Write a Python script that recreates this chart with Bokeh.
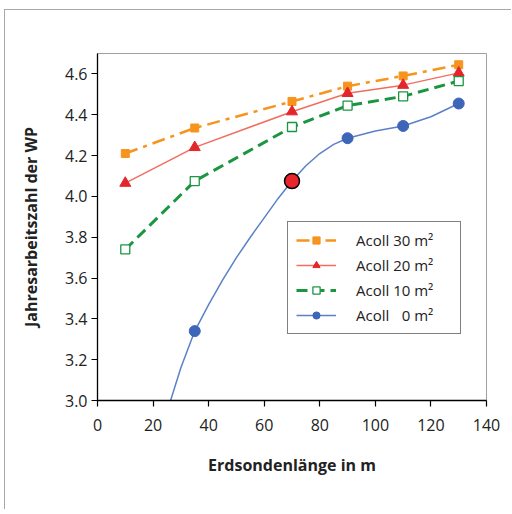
from bokeh.plotting import figure
from bokeh.models import (Range1d, FixedTicker, PrintfTickFormatter, Legend,
                          LegendItem, InlineStyleSheet)
from bokeh.embed import file_html
from bokeh.resources import INLINE

# ---- data ----
x_pts = [10, 35, 70, 90, 110, 130]
a30 = [4.21, 4.335, 4.465, 4.54, 4.59, 4.645]
a20 = [4.065, 4.24, 4.415, 4.505, 4.545, 4.605]
a10 = [3.74, 4.075, 4.34, 4.445, 4.49, 4.565]

a0_x = [35, 90, 110, 130]
a0_y = [3.34, 4.285, 4.345, 4.455]
# traced smooth curve of the 0 m2 series
a0_curve_x = [26.3, 30, 35, 40, 45, 50, 55, 60, 65, 70, 75, 80, 85, 90, 100, 110, 120, 130]
a0_curve_y = [3.0, 3.16, 3.34, 3.47, 3.59, 3.70, 3.80, 3.895, 3.99, 4.075, 4.15, 4.21, 4.255, 4.285, 4.32, 4.345, 4.39, 4.455]

hl_x = [70]
hl_y = [4.075]

x_ticks = [0, 20, 40, 60, 80, 100, 120, 140]
y_ticks = [3.0, 3.2, 3.4, 3.6, 3.8, 4.0, 4.2, 4.4, 4.6]

labels = ["Acoll 30 m\u00b2", "Acoll 20 m\u00b2", "Acoll 10 m\u00b2", "Acoll \u20070 m\u00b2"]

FONT = "Open Sans"

p = figure(width=507, height=500, output_backend="svg", toolbar_location=None,
           x_range=Range1d(0, 140), y_range=Range1d(3.0, 4.7),
           min_border_left=92, min_border_top=43, min_border_right=26,
           min_border_bottom=110)

p.stylesheets = [InlineStyleSheet(css=":host { position: relative; left: 4px; top: 9px; "
                                      "border-left: 1px solid #a8a8a8; border-top: 1px solid #a8a8a8; }")]

p.xgrid.visible = False
p.ygrid.visible = False
p.outline_line_color = "#a0a0a0"
p.outline_line_width = 1
p.background_fill_color = "white"
p.border_fill_color = "white"

for ax in (p.xaxis[0], p.yaxis[0]):
    ax.axis_line_color = "black"
    ax.axis_line_width = 1.3
    ax.major_tick_line_color = "black"
    ax.major_tick_line_width = 1.2
    ax.major_tick_in = 0
    ax.major_tick_out = 6
    ax.minor_tick_line_color = None
    ax.major_label_text_font = FONT
    ax.major_label_text_font_size = "16px"
    ax.major_label_text_color = "#222222"
    ax.axis_label_text_font = FONT
    ax.axis_label_text_font_size = "16px"
    ax.axis_label_text_font_style = "bold"
    ax.axis_label_text_color = "#222222"

p.xaxis.ticker = FixedTicker(ticks=x_ticks)
p.yaxis.ticker = FixedTicker(ticks=y_ticks)
p.yaxis.formatter = PrintfTickFormatter(format="%.1f")
p.xaxis.axis_label = "Erdsondenlänge in m"
p.yaxis.axis_label = "Jahresarbeitszahl der WP"
p.xaxis.major_label_standoff = 12
p.yaxis.major_label_standoff = 4
p.xaxis.axis_label_standoff = 20
p.yaxis.axis_label_standoff = 20

ORANGE = "#f7941d"
RED_L = "#f36d5e"
RED_M = "#e3262b"
GREEN = "#1a9641"
BLUE_L = "#5b80c8"
BLUE_M = "#3d66b8"

l30 = p.line(x_pts, a30, line_color=ORANGE, line_width=2.5, line_dash="13 6 4 6")
m30 = p.scatter(x_pts, a30, marker="square", size=8, fill_color=ORANGE, line_color=ORANGE)

l20 = p.line(x_pts, a20, line_color=RED_L, line_width=1.5)
m20 = p.scatter(x_pts, a20, marker="triangle", size=11, fill_color=RED_M, line_color=RED_M)

l10 = p.line(x_pts, a10, line_color=GREEN, line_width=3, line_dash="11 6")
m10 = p.scatter(x_pts, a10, marker="square", size=9, fill_color="white", line_color=GREEN, line_width=1.3)

l0 = p.line(a0_curve_x, a0_curve_y, line_color=BLUE_L, line_width=1.5)
m0 = p.scatter(a0_x, a0_y, marker="circle", size=11, fill_color=BLUE_M, line_color=BLUE_M)

p.scatter(hl_x, hl_y, marker="circle", size=15, fill_color="#e8252b", line_color="black", line_width=1.5)

legend = Legend(items=[
    LegendItem(label=labels[0], renderers=[l30, m30]),
    LegendItem(label=labels[1], renderers=[l20, m20]),
    LegendItem(label=labels[2], renderers=[l10, m10]),
    LegendItem(label=labels[3], renderers=[l0, m0]),
], location=(190, 66))
legend.border_line_color = "black"
legend.border_line_width = 1.5
legend.background_fill_color = "white"
legend.background_fill_alpha = 1
legend.label_text_font = FONT
legend.label_text_font_size = "15px"
legend.label_text_color = "#222222"
legend.padding = 8
legend.spacing = 5
legend.glyph_height = 18
legend.label_height = 18
legend.glyph_width = 40
legend.label_standoff = 20
legend.label_width = 96
legend.margin = 0
p.add_layout(legend, "center")

open("out.html", "w").write(file_html(p, INLINE))
